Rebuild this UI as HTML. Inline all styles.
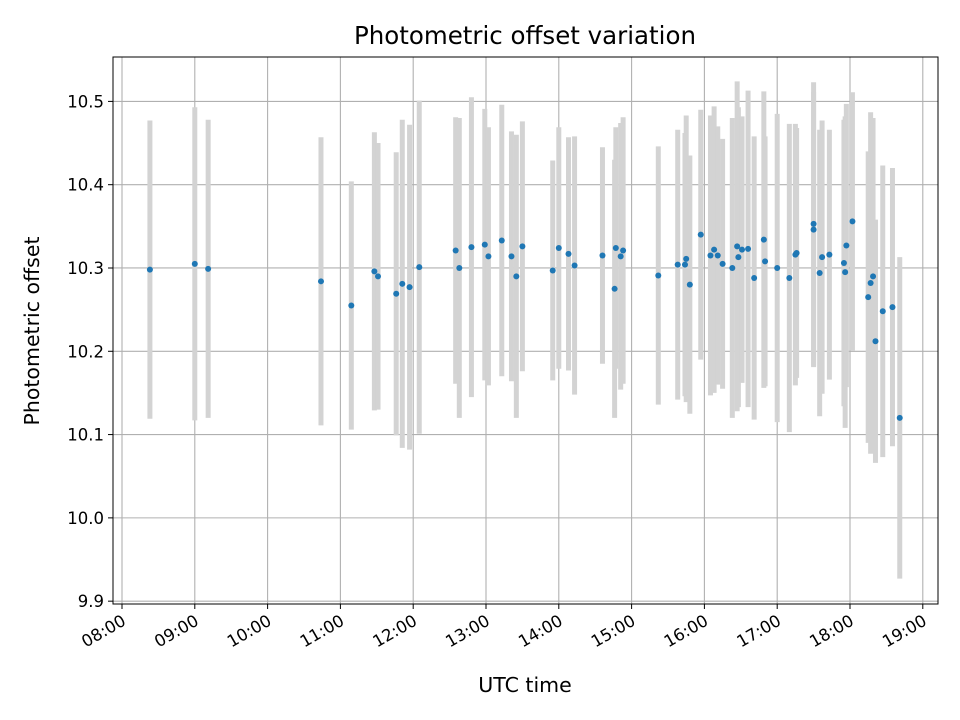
<!DOCTYPE html>
<html><head><meta charset="utf-8">
<style>
html,body{margin:0;padding:0;background:#fff;}
svg{display:block;font-family:"DejaVu Sans","Liberation Sans",sans-serif;}
</style></head>
<body>
<svg id="chart" width="960" height="720" viewBox="0 0 960 720" xmlns="http://www.w3.org/2000/svg">
<rect width="960" height="720" fill="#fff"/>
<g id="grid"></g>
<g id="bars"></g>
<g id="points"></g>
<g id="axes"></g>
<text x="525" y="44" text-anchor="middle" font-size="24.5" fill="#000">Photometric offset variation</text>
<text x="525" y="692" text-anchor="middle" font-size="20.5" fill="#000">UTC time</text>
<text transform="translate(39,331) rotate(-90)" text-anchor="middle" font-size="20.5" fill="#000">Photometric offset</text>
</svg>
<script>
const times = ["08:23","09:00","09:11","10:44","11:09","11:28","11:31","11:46","11:51","11:57","12:05","12:35","12:38","12:48","12:59","13:02","13:13","13:21","13:25","13:30","13:55","14:00","14:08","14:13","14:36","14:46","14:47","14:51","14:53","15:22","15:38","15:44","15:45","15:48","15:57","16:05","16:08","16:11","16:15","16:23","16:27","16:28","16:31","16:36","16:41","16:49","16:50","17:00","17:10","17:15","17:16","17:30","17:30","17:35","17:37","17:43","17:55","17:56","17:57","18:02","18:15","18:17","18:19","18:21","18:27","18:35","18:41"];
const offsets = [10.298,10.305,10.299,10.284,10.255,10.296,10.290,10.269,10.281,10.277,10.301,10.321,10.300,10.325,10.328,10.314,10.333,10.314,10.290,10.326,10.297,10.324,10.317,10.303,10.315,10.275,10.324,10.314,10.321,10.291,10.304,10.304,10.311,10.280,10.340,10.315,10.322,10.315,10.305,10.300,10.326,10.313,10.322,10.323,10.288,10.334,10.308,10.300,10.288,10.316,10.318,10.353,10.346,10.294,10.313,10.316,10.306,10.295,10.327,10.356,10.265,10.282,10.290,10.212,10.248,10.253,10.120];
const errors = [0.179,0.188,0.179,0.173,0.149,0.167,0.160,0.170,0.197,0.195,0.200,0.160,0.180,0.180,0.163,0.155,0.163,0.150,0.170,0.150,0.132,0.145,0.140,0.155,0.130,0.155,0.145,0.160,0.160,0.155,0.162,0.158,0.172,0.155,0.150,0.168,0.172,0.155,0.150,0.180,0.198,0.180,0.160,0.190,0.170,0.178,0.150,0.185,0.185,0.157,0.150,0.170,0.165,0.172,0.164,0.150,0.172,0.187,0.170,0.155,0.175,0.205,0.190,0.146,0.175,0.167,0.193];
const xTicks = ["08:00","09:00","10:00","11:00","12:00","13:00","14:00","15:00","16:00","17:00","18:00","19:00"];
const yTicks = [9.9,10.0,10.1,10.2,10.3,10.4,10.5];

const L=113,R=938,T=57,B=604;
const xMin=7.8764, xMax=xMin+(R-L)/72.8;
const yMin=9.8966, yMax=10.5533;
function hrs(s){const p=s.split(":");return +p[0]+ +p[1]/60;}
function X(s){return L+(hrs(s)-xMin)/(xMax-xMin)*(R-L);}
function Y(v){return B-(v-yMin)/(yMax-yMin)*(B-T);}
const NS="http://www.w3.org/2000/svg";
function mk(tag,attrs,parent){const e=document.createElementNS(NS,tag);for(const k in attrs)e.setAttribute(k,attrs[k]);parent.appendChild(e);return e;}
const grid=document.getElementById("grid"),bars=document.getElementById("bars"),pts=document.getElementById("points"),axes=document.getElementById("axes");

xTicks.forEach(t=>{
  const x=X(t);
  const g=mk("line",{x1:x,x2:x,y1:T,y2:B,stroke:"#b0b0b0","stroke-width":1.1},grid);
  
  
  const tk=mk("line",{x1:x,x2:x,y1:B,y2:B+5,stroke:"#000","stroke-width":1},axes);
  
  
  const lb=mk("text",{x:x+5,y:B+20,"text-anchor":"end","font-size":16.5,transform:`rotate(-30 ${x+5} ${B+20})`},axes);
  lb.textContent=t;
  
  
});
yTicks.forEach(v=>{
  const y=Y(v);
  const g=mk("line",{x1:L,x2:R,y1:y,y2:y,stroke:"#b0b0b0","stroke-width":1.1},grid);
  
  
  const tk=mk("line",{x1:L-5,x2:L,y1:y,y2:y,stroke:"#000","stroke-width":1},axes);
  
  
  const lb=mk("text",{x:L-1,y:y+6,"text-anchor":"end","font-size":16.5},axes);
  lb.setAttribute('x',L-9);
  lb.textContent=v.toFixed(1);
  
  
});
times.forEach((t,i)=>{
  const x=X(t);
  const b=mk("line",{x1:x,x2:x,y1:Y(offsets[i]+errors[i]),y2:Y(offsets[i]-errors[i]),stroke:"#d3d3d3","stroke-width":5},bars);
  
  
});
times.forEach((t,i)=>{
  const c=mk("circle",{cx:X(t),cy:Y(offsets[i]),r:3,fill:"#1f77b4"},pts);
  
  
});
const fr=mk("rect",{x:L,y:T,width:R-L,height:B-T,fill:"none",stroke:"#000","stroke-width":1},axes);


</script>
</body></html>
